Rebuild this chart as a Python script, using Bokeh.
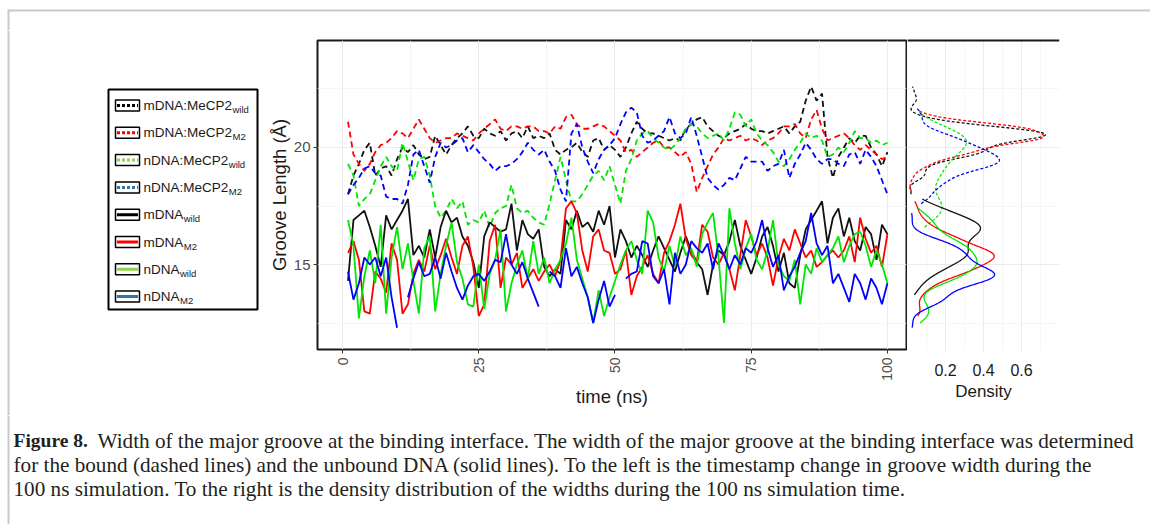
import numpy as np
from bokeh.plotting import figure
from bokeh.layouts import column, row
from bokeh.models import FixedTicker, Span, Range1d
from bokeh.core.properties import value
from bokeh.embed import file_html
from bokeh.resources import INLINE

nan = float("nan")

# ---------------- data ----------------
time_ns = [t for t in range(1, 101)]

mdna_mecp2_wild = [18.0, 18.8, 19.3, 19.9, 20.2, 18.8, 19.1, 19.2, 18.8, 19.5,
                   20.0, 19.8, 20.1, 19.7, 19.5, 19.6, 20.5, 20.1, 19.7, 20.1,
                   20.4, 20.6, 20.9, 20.5, 20.4, 20.8, 20.6, 20.5, 20.7, 20.3,
                   20.6, 20.7, 20.4, 20.9, 20.4, 20.5, 20.4, 20.6, 19.9, 19.7,
                   19.9, 20.0, 20.2, 19.8, 19.6, 20.3, 20.4, 19.9, 20.1, 19.9,
                   19.6, 20.0, 20.6, 21.1, 20.8, 20.6, 20.6, 20.5, 20.4, 20.3,
                   20.4, 20.3, 20.8, 21.0, 21.2, 21.3, 20.9, 20.7, 20.5, 20.4,
                   20.6, 20.7, 20.8, 21.0, 20.8, 20.7, 20.7, 20.6, 20.7, 20.8,
                   20.9, 20.6, 20.9, 21.1, 22.0, 22.6, 22.0, 22.3, 19.6, 18.7,
                   19.6, 20.0, 20.4, 20.2, 20.5, 20.5, 20.0, 19.7, 19.2, 19.8]

mdna_mecp2_m2 = [21.1, 19.7, 19.3, 19.0, 19.3, 19.8, 20.1, 20.2, 20.4, 20.7,
                 20.6, 20.4, 20.8, 21.2, 20.8, 20.4, 20.2, 20.3, 20.4, 20.4,
                 20.6, 20.5, 20.4, 20.3, 20.6, 20.8, 21.0, 21.2, 20.8, 20.7,
                 20.9, 20.9, 20.8, 20.9, 20.9, 20.7, 20.7, 20.6, 20.9, 20.8,
                 21.3, 21.4, 21.0, 20.8, 20.8, 20.9, 21.0, 20.9, 20.7, 20.5,
                 20.3, 19.8, 19.9, 19.6, 19.8, 20.0, 20.2, 20.3, 20.0, 20.0,
                 19.8, 19.6, 19.8, 19.3, 18.1, 18.7, 19.2, 19.7, 20.0, 20.4,
                 20.3, 20.4, 20.5, 20.3, 20.4, 20.3, 20.1, 20.3, 20.4, 20.6,
                 20.9, 20.9, 21.0, 20.6, 20.4, 21.2, 21.6, 20.8, 20.3, 20.4,
                 20.5, 20.6, 20.4, 20.1, 19.9, 20.1, 19.9, 19.7, 19.5, 19.6]

ndna_mecp2_wild = [19.3, 18.8, 17.5, 17.8, 18.0, 18.6, 19.2, 19.6, 19.2, 19.0,
                   20.2, 19.4, 18.6, 19.5, 19.6, 18.8, 17.5, 17.0, 17.3, 17.8,
                   17.4, 17.7, 16.7, 16.9, 16.8, 17.3, 16.6, 17.2, 17.4, 17.5,
                   18.4, 17.4, 17.2, 17.3, 17.0, 16.8, 16.7, 17.6, 18.6, 19.6,
                   18.6, 17.7, 17.7, 18.0, 18.4, 18.8, 19.0, 18.6, 19.2, 18.4,
                   17.6, 19.0, 19.5, 20.3, 20.6, 20.7, 20.4, 20.2, 20.0, 19.9,
                   20.1, 20.4, 20.8, 21.0, 20.9, 20.6, 20.4, 20.5, 20.6, 20.3,
                   20.8, 21.5, 21.4, 20.9, 21.2, 20.6, 20.3, 20.1, 19.8, 19.4,
                   19.2, 19.5, 19.9, 20.2, 20.6, 20.4, 20.5, 20.3, 19.6, 19.7,
                   20.0, 19.8, 20.2, 20.7, 20.4, 20.4, 20.2, 20.3, 20.1, 20.2]

ndna_mecp2_m2 = [18.0, 18.4, 18.7, 19.1, 19.2, 18.9, 18.8, 17.9, 17.8, 17.8,
                 17.6, 18.4, 19.7, 19.9, 19.2, 18.5, 19.6, 20.2, 20.0, 20.1,
                 20.3, 20.4, 19.8, 20.1, 19.8, 19.5, 19.3, 19.0, 19.2, 19.2,
                 19.3, 19.5, 19.8, 20.2, 19.9, 19.7, 19.9, 19.4, 19.0, 18.2,
                 17.7, 20.6, 21.0, 20.0, 19.4, 18.9, 19.5, 19.9, 20.1, 20.4,
                 21.0, 21.5, 21.7, 21.5, 20.5, 20.2, 20.3, 20.5, 20.7, 21.3,
                 20.6, 20.4, 20.6, 21.3, 20.5, 19.6, 18.7, 18.4, 18.2, 18.4,
                 18.7, 18.6, 19.1, 19.6, 19.4, 19.4, 19.4, 19.0, 19.2, 19.3,
                 19.9, 18.7, 19.3, 19.7, 20.2, 19.9, 19.5, 19.3, 19.5, 19.5,
                 19.3, 19.2, 19.7, 19.8, 19.3, 19.9, 19.6, 19.2, 18.6, 18.0]

mdna_wild = [14.3, 16.9, 17.1, 17.3, 16.6, 15.8, 14.9, 17.1, 16.5, 16.9,
             17.3, 17.8, 15.4, 15.8, 15.3, 16.5, 15.3, 16.6, 17.3, 16.8,
             17.0, 16.2, 15.8, 15.1, 14.0, 16.2, 16.8, 16.6, 16.4, 16.5,
             17.6, 15.6, 16.9, 16.3, 16.1, 16.5, 14.9, 14.5, 14.8, 14.6,
             16.9, 16.5, 17.3, 16.6, 16.8, 16.4, 17.3, 16.7, 17.5, 15.3,
             16.5, 16.0, 15.3, 15.8, 15.4, 14.9, 15.6, 16.2, 15.7, 15.2,
             14.7, 15.5, 16.2, 15.6, 15.1, 14.8, 13.7, 15.0, 15.6, 15.4,
             16.0, 16.9, 15.8, 15.2, 14.6, 15.3, 16.2, 16.6, 15.8, 14.7,
             15.5, 14.2, 14.0, 15.4, 16.5, 16.9, 17.3, 17.7, 15.9, 17.0,
             17.4, 16.2, 17.0, 16.0, 15.6, 16.6, 16.3, 15.2, 16.7, 16.3]

mdna_m2 = [15.5, 16.0, 15.2, 13.0, 12.9, 14.7, 14.4, 13.8, 15.9, 15.2,
           12.9, 13.3, 14.6, 15.2, 14.7, 15.8, 14.8, 15.4, 16.1, 15.3,
           14.6, 15.8, 16.2, 14.9, 12.8, 13.3, 16.0, 16.7, 14.0, 15.3,
           15.0, 15.5, 14.0, 14.4, 14.8, 14.3, 14.7, 15.0, 14.5, 15.2,
           17.4, 17.7, 17.2, 15.6, 14.7, 16.2, 16.5, 15.6, 15.5, 14.6,
           14.8, 15.6, 13.7, 14.5, 14.9, 15.4, 14.6, 14.2, 15.5, 16.0,
           16.7, 17.6, 16.1, 15.4, 15.1, 16.7, 16.4, 15.3, 15.0, 15.5,
           14.8, 13.9, 15.4, 16.9, 16.2, 15.4, 15.9, 15.3, 14.1, 15.3,
           16.1, 15.6, 16.5, 15.9, 15.3, 15.6, 14.9, 15.1, 15.4, 15.6,
           15.3, 15.6, 16.2, 15.1, 17.0, 16.1, 15.5, 15.8, 14.9, 16.3]

ndna_wild = [16.9, 15.8, 12.7, 14.5, 15.6, 14.2, 16.7, 12.9, 15.3, 16.6,
             14.8, 15.9, 14.3, 12.9, 15.7, 16.2, 13.0, 14.6, 15.8, 16.8,
             15.1, 14.4, 13.3, 13.2, 15.0, 13.1, 14.6, 15.2, 16.5, 13.0,
             14.2, 15.0, 15.6, 14.4, 16.0, 14.6, 15.3, 14.2, 14.8, 15.2,
             15.9, 17.0, 15.2, 14.4, 13.6, 12.5, 13.9, 12.8, 13.6, 14.3,
             15.0, 15.6, 16.0, 15.2, 14.6, 17.3, 16.8, 15.3, 14.7, 15.8,
             14.9, 16.2, 15.4, 15.7, 14.9, 16.3, 16.8, 17.2, 15.3, 12.5,
             17.4, 15.9, 14.8, 15.7, 16.3, 15.2, 14.8, 15.6, 16.9, 15.0,
             14.5, 14.3, 15.2, 13.3, 15.0, 14.6, 15.7, 15.1, 15.4, 15.7,
             16.2, 15.1, 15.8, 16.3, 16.4, 15.8, 14.9, 15.6, 15.0, 14.2]

ndna_m2 = [14.7, 13.5, 14.2, 15.3, 15.0, 15.3, 14.5, 15.3, 13.6, 12.3,
           nan, 13.6, 14.4, 15.1, 14.5, 14.6, 15.3, 14.4, 15.5, 14.7,
           14.0, 13.5, 14.1, 14.5, 14.6, 14.3, 14.7, 15.2, 15.1, 16.3,
           15.0, 14.6, 15.1, 14.4, 13.8, 13.2, nan, 14.7, 14.5, 14.0,
           15.7, 14.5, 14.9, 14.2, 13.6, 12.5, 13.5, 14.3, 13.2, 13.7,
           nan, 14.4, 14.6, 14.7, 16.0, 15.9, 14.5, 14.2, 14.8, 13.3,
           15.5, 14.6, 15.0, 16.0, 15.7, 15.5, 15.9, 14.8, 15.9, 15.4,
           14.8, 15.4, 15.0, 15.7, 15.5, 16.0, 16.9, 15.7, 14.9, 15.4,
           13.9, 14.5, 14.9, 15.5, 16.0, 17.2, 15.9, 15.4, 15.8, 14.2,
           14.6, 14.0, 13.4, 14.6, 14.2, 13.5, 14.4, 14.0, 13.3, 14.2]

legend_main = ["mDNA:MeCP2", "mDNA:MeCP2", "nDNA:MeCP2", "nDNA:MeCP2",
               "mDNA", "mDNA", "nDNA", "nDNA"]
legend_sub = ["wild", "M2", "wild", "M2", "wild", "M2", "wild", "M2"]

x_ticks = [0, 25, 50, 75, 100]
x_minor = [12.5, 37.5, 62.5, 87.5]
y_ticks = [15, 20]
y_minor = [12.5, 17.5, 22.5]
dens_ticks = [0.2, 0.4, 0.6]
dens_minor = [0.1, 0.3, 0.5, 0.7]

caption_bold = "Figure 8."
caption_lines = [
    "Width of the major groove at the binding interface. The width of the major groove at the binding interface was determined",
    "for the bound (dashed lines) and the unbound DNA (solid lines). To the left is the timestamp change in groove width during the",
    "100 ns simulation. To the right is the density distribution of the widths during the 100 ns simulation time.",
]

# ---------------- styles ----------------
series = [mdna_mecp2_wild, mdna_mecp2_m2, ndna_mecp2_wild, ndna_mecp2_m2,
          mdna_wild, mdna_m2, ndna_wild, ndna_m2]
plot_colors = ["#111111", "#ff0000", "#00e600", "#0000ff"] * 2
legend_colors = ["#000000", "#ff0000", "#92d050", "#2e75b6"] * 2
is_dashed = [True] * 4 + [False] * 4

X_LO, X_HI = -4.6, 103.5
Y_LO, Y_HI = 11.37, 24.57
PX_Y = 309 / (Y_HI - Y_LO)
SANS = "Liberation Sans"
SERIF = "Liberation Serif"


def canvas(w, h):
    p = figure(width=w, height=h, x_range=Range1d(0, w), y_range=Range1d(h, 0),
               output_backend="svg", toolbar_location=None, title_location=None,
               x_axis_location=None, y_axis_location=None,
               min_border_left=0, min_border_right=0, min_border_top=0, min_border_bottom=0)
    p.frame_align = False
    p.grid.visible = False
    p.outline_line_color = None
    p.background_fill_color = "white"
    p.border_fill_color = "white"
    return p


GRAY = "#c9c9c9"

# top strip
top = canvas(1150, 30)
top.segment(x0=8, y0=10, x1=1150, y1=10, line_color=GRAY, line_width=2)
top.segment(x0=8, y0=9, x1=8, y1=30, line_color=GRAY, line_width=2)

# legend panel
left = canvas(260, 385)
left.segment(x0=8, y0=0, x1=8, y1=385, line_color=GRAY, line_width=2)
left.quad(left=108, right=257, top=59, bottom=279, fill_color="white",
          line_color="#000000", line_width=2)
ARIAL = {"m": 833, "D": 722, "N": 722, "A": 667, ":": 278, "M": 833, "e": 556,
         "C": 722, "P": 667, "2": 556, "n": 556}
FS = 13.5
ys = [75 + i * 27.3 for i in range(8)]
for i in range(8):
    y = ys[i]
    left.quad(left=115, right=139, top=y - 5.5, bottom=y + 5.5, fill_color="white",
              line_color="#000000", line_width=1.5)
    left.segment(x0=116.5, y0=y, x1=137.5, y1=y, line_color=legend_colors[i], line_width=3,
                 line_dash="3 2" if is_dashed[i] else "solid")
    wpx = sum(ARIAL[c] for c in legend_main[i]) * FS / 1000.0
    left.text(x=[143], y=[y], text=[legend_main[i]], text_font=value(SANS),
              text_font_size=f"{FS}px", text_baseline="middle", text_color="#1a1a1a")
    left.text(x=[143 + wpx + 0.5], y=[y + 4], text=[legend_sub[i]], text_font=value(SANS),
              text_font_size="9.5px", text_baseline="middle", text_color="#1a1a1a")

# main time-series panel
main = figure(width=647, height=385, x_range=Range1d(X_LO, X_HI), y_range=Range1d(Y_LO, Y_HI),
              output_backend="svg", toolbar_location=None, title_location=None,
              min_border_left=57, min_border_right=1, min_border_top=10, min_border_bottom=66)
main.frame_align = False
main.outline_line_color = "#1a1a1a"
main.outline_line_width = 2
main.background_fill_color = "white"
main.border_fill_color = "white"
for i in range(8):
    main.line(time_ns, series[i], line_color=plot_colors[i], line_width=1.8,
              line_dash="6 4" if is_dashed[i] else "solid")

for ax in (main.xaxis, main.yaxis):
    ax.axis_line_color = None
    ax.major_tick_in = 0
    ax.major_tick_out = 4
    ax.major_tick_line_color = "#333333"
    ax.minor_tick_line_color = None
    ax.major_label_text_font = SANS
    ax.major_label_text_color = "#4d4d4d"
    ax.axis_label_text_font = SANS
    ax.axis_label_text_font_style = "normal"
    ax.axis_label_text_color = "#1a1a1a"
    ax.axis_label_text_font_size = "18.5px"
main.xaxis.ticker = FixedTicker(ticks=x_ticks, minor_ticks=x_minor)
main.yaxis.ticker = FixedTicker(ticks=y_ticks, minor_ticks=y_minor)
main.xaxis.major_label_orientation = np.pi / 2
main.xaxis.major_label_text_font_size = "14px"
main.yaxis.major_label_text_font_size = "15px"
main.xaxis.major_label_standoff = 4
main.yaxis.major_label_standoff = 3
main.xaxis.axis_label = "time (ns)"
main.yaxis.axis_label = "Groove Length (Å)"
main.xaxis.axis_label_standoff = 2
main.yaxis.axis_label_standoff = 1
for g in (main.xgrid, main.ygrid):
    g.grid_line_color = "#ebebeb"
    g.grid_line_width = 1
    g.minor_grid_line_color = "#f4f4f4"
    g.minor_grid_line_width = 0.8

# density panel
dens = figure(width=243, height=385, x_range=Range1d(0, 0.8),
              y_range=Range1d(Y_LO - 2 / PX_Y, Y_HI + 2 / PX_Y),
              output_backend="svg", toolbar_location=None, title_location=None,
              y_axis_location=None,
              min_border_left=0, min_border_right=91, min_border_top=8, min_border_bottom=64)
dens.frame_align = False
dens.outline_line_color = None
dens.background_fill_color = "white"
dens.border_fill_color = "white"
dens.xaxis.ticker = FixedTicker(ticks=dens_ticks, minor_ticks=dens_minor)
dens.xgrid.ticker = FixedTicker(ticks=dens_ticks, minor_ticks=dens_minor)
dens.ygrid.ticker = FixedTicker(ticks=y_ticks, minor_ticks=y_minor)
for g in (dens.xgrid, dens.ygrid):
    g.grid_line_color = "#ebebeb"
    g.grid_line_width = 1
    g.minor_grid_line_color = "#f4f4f4"
    g.minor_grid_line_width = 0.8
dens.xaxis.axis_line_color = None
dens.xaxis.major_tick_line_color = None
dens.xaxis.minor_tick_line_color = None
dens.xaxis.major_label_text_font = SANS
dens.xaxis.major_label_text_font_size = "16px"
dens.xaxis.major_label_text_color = "#1a1a1a"
dens.xaxis.major_label_standoff = 6
dens.xaxis.axis_label = "Density"
dens.xaxis.axis_label_text_font = SANS
dens.xaxis.axis_label_text_font_style = "normal"
dens.xaxis.axis_label_text_font_size = "17px"
dens.xaxis.axis_label_text_color = "#1a1a1a"
dens.xaxis.axis_label_standoff = 3
dens.add_layout(Span(location=Y_HI, dimension="width", line_color="#1a1a1a", line_width=2))


def kde(vals):
    v = np.array([x for x in vals if x == x], dtype=float)
    n = len(v)
    q75, q25 = np.percentile(v, [75, 25])
    bw = 0.9 * min(v.std(ddof=1), (q75 - q25) / 1.34) * n ** -0.2
    g = np.linspace(v.min(), v.max(), 256)
    d = np.exp(-0.5 * ((g[:, None] - v[None, :]) / bw) ** 2).sum(axis=1) / (n * bw * np.sqrt(2 * np.pi))
    return g, d


for i in range(8):
    g, d = kde(series[i])
    dens.line(d, g, line_color=plot_colors[i], line_width=1.3,
              line_dash="3 2" if is_dashed[i] else "solid")

# caption
cap = canvas(1150, 109)
cap.segment(x0=8, y0=0, x1=8, y1=109, line_color=GRAY, line_width=2)
cap.text(x=[13], y=[25], text=[caption_bold], text_font=value(SERIF), text_font_style="bold",
         text_font_size="19.5px", text_baseline="middle", text_color="#231f20")
cap.text(x=[97, 13, 13], y=[25, 49, 73], text=caption_lines, text_font=value(SERIF),
         text_font_size="21.2px", text_baseline="middle", text_color="#231f20")

layout = column(top, row(left, main, dens), cap)
open("out.html", "w").write(file_html(layout, INLINE))
